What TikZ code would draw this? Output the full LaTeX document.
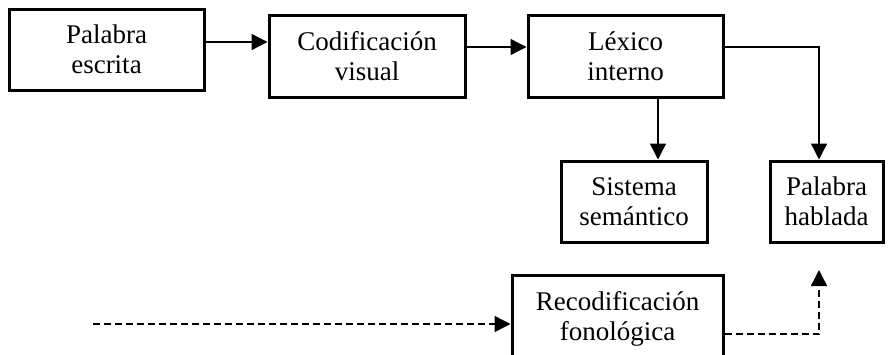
\documentclass[tikz,border=0pt]{standalone}
\usepackage{fontspec}
\setmainfont{Liberation Serif}
\usetikzlibrary{arrows.meta}
\begin{document}
\begin{tikzpicture}[x=1pt,y=-1pt,
  blk/.style={draw, line width=3pt, align=center, inner sep=0pt,
    font=\fontsize{27}{30}\selectfont},
  arr/.style={line width=1.4pt, -{Triangle[length=16pt,width=16pt]}},
  darr/.style={arr, dash pattern=on 7pt off 4pt}]
\useasboundingbox (0,0) rectangle (892,354);
\clip (0,0) rectangle (892,354);
\node[blk, minimum width=195pt, minimum height=81pt] (b1) at (106.5,49.5) {Palabra\\escrita};
\node[blk, minimum width=196pt, minimum height=82pt] (b2) at (367,56) {Codificación\\visual};
\node[blk, minimum width=195pt, minimum height=82pt] (b3) at (625.5,56) {Léxico\\interno};
\node[blk, minimum width=146pt, minimum height=81pt] (sis) at (634,201.5) {Sistema\\semántico};
\node[blk, minimum width=113pt, minimum height=81pt] (hab) at (826.5,201.5) {Palabra\\hablada};
\node[blk, minimum width=211pt, minimum height=87pt] (rec) at (617.5,318.5) {Recodificación\\fonológica};
\coordinate (src) at (93,324);
\coordinate (tip) at (819,270);
\draw[arr] (b1.east |- 0,42) -- (b2.west |- 0,42);
\draw[arr] (b2.east |- 0,47) -- (b3.west |- 0,47);
\draw[arr] (b3.south -| 658,0) -- (sis.north -| 658,0);
\draw[arr] (b3.east |- 0,47) -| (hab.north -| 819,0);
\draw[darr] (src) -- (rec.west |- src);
\draw[darr] (rec.east |- 0,334) -| (tip);
\end{tikzpicture}
\end{document}
